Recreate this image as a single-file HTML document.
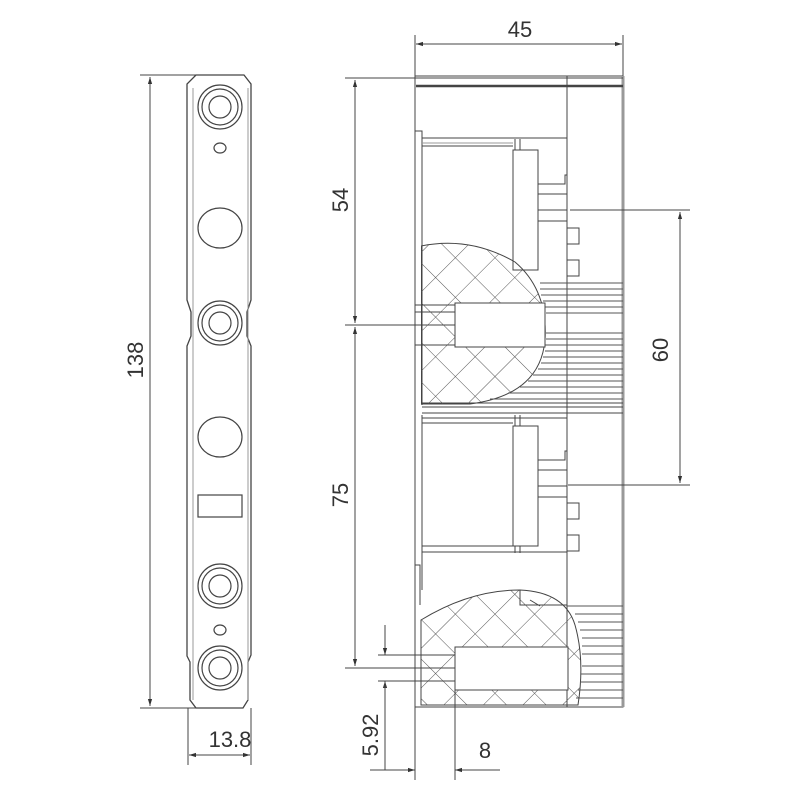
<!DOCTYPE html>
<html><head><meta charset="utf-8"><style>
html,body{margin:0;padding:0;background:#fff;width:800px;height:800px;overflow:hidden}
svg{display:block}
text{font-family:"Liberation Sans",sans-serif;font-size:22px;fill:#333}
</style></head><body>
<svg width="800" height="800" viewBox="0 0 800 800" xmlns="http://www.w3.org/2000/svg">
<defs>
<pattern id="hx" width="28" height="28" patternUnits="userSpaceOnUse" patternTransform="rotate(45)">
<path d="M0 0H28M0 0V28" stroke="#555" stroke-width="1" fill="none"/>
</pattern>
<marker id="a" viewBox="0 0 10 10" refX="10" refY="5" markerWidth="7" markerHeight="7" orient="auto-start-reverse"><path d="M0 2L10 5L0 8z" fill="#333"/></marker>
<clipPath id="c1"><rect x="421" y="70" width="205" height="640"/></clipPath>
</defs>
<g fill="none" stroke="#444" stroke-width="1">
<path d="M196 75H244L251 84V300L247 312V336L251 346V655L248 662V700L243 708H196L190 700V662L187 656V346L191 336V312L187 300V84Z" stroke-width="1.3"/>
<path d="M193 88V700M248 88V700" stroke="#999"/>
<g stroke-width="1.2">
<circle cx="220" cy="107" r="22"/><circle cx="220" cy="107" r="18"/><circle cx="220" cy="107" r="11"/>
<ellipse cx="220" cy="148" rx="6" ry="5"/>
<ellipse cx="220" cy="228" rx="22" ry="20"/>
<circle cx="220" cy="323" r="22"/><circle cx="220" cy="323" r="18"/><circle cx="220" cy="323" r="11"/>
<ellipse cx="220" cy="437" rx="22" ry="20"/>
<rect x="198" y="495" width="44" height="22"/>
<circle cx="220" cy="586" r="22"/><circle cx="220" cy="586" r="18"/><circle cx="220" cy="586" r="11"/>
<ellipse cx="220" cy="630" rx="6" ry="5"/>
<circle cx="220" cy="668" r="22"/><circle cx="220" cy="668" r="18"/><circle cx="220" cy="668" r="11"/>
</g>
<path d="M140 75H200M140 708H200"/>
<path d="M150 77V706" marker-start="url(#a)" marker-end="url(#a)"/>
<path d="M188 708V765M251 708V765"/>
<path d="M189 755H250" marker-start="url(#a)" marker-end="url(#a)"/>

<rect x="415" y="76" width="208" height="631"/>
<path d="M623 76V707" stroke="#999" stroke-width="3"/>
<path d="M416 86H623" stroke-width="2.5"/>
<path d="M416 78H623"/>
<path d="M567 76V707"/>
<path d="M415 131H422V405M422 415V590"/>
<path d="M422 138H567M422 146H513" />
<path d="M422 143H513" stroke="#999"/>
<rect x="513" y="150" width="25" height="120"/>
<path d="M515 139V150M520 139V150M538 184H565V175H567M538 194H567M538 210H567M538 221H567M567 228H579V244H567M567 260H579V276H567"/>
<path d="M422 418H567M422 423H513" />
<rect x="513" y="426" width="25" height="120"/>
<path d="M515 415V426M520 415V426M515 546V553M520 546V553M538 460H565V451H567M538 470H567M538 486H567M538 497H567M567 503H579V519H567M567 535H579V551H567"/>
<path d="M422 546H513M422 552H567"/>
<path d="M415 565H420V605"/>
<path d="M422 403H623M422 407H623M422 413H623" />
<g clip-path="url(#c1)">
<path d="M421 246Q470 236 515 262Q548 290 545 340Q540 395 470 404H421Z" fill="url(#hx)" stroke="#444"/>
</g>
<g stroke="#555">
<path d="M540 283H623M540 289H623M541 295H623M543 301H623M545 307H623M546 313H623M546 333H623M546 339H623M545 345H623M545 351H623M543 357H623M541 363H623M538 369H623M533 375H623M528 381H623M520 387H623M508 393H623M490 399H623"/>
</g>
<rect x="455" y="303" width="90" height="44" fill="#fff"/>
<path d="M415 305H455M415 345H455M410 325H455M415 312H455" />
<path d="M421 620Q470 590 520 590Q565 592 575 625Q585 660 578 705H421Z" fill="url(#hx)"/>
<path d="M520 590V605H567M530 600L540 606" />
<g stroke="#555">
<path d="M567 606H623M575 614H623M578 622H623M580 630H623M582 638H623M582 646H623M582 654H623M582 666H623M581 674H623M580 682H623M578 690H623M576 698H623"/>
</g>
<rect x="455" y="647" width="113" height="43" fill="#fff"/>
<path d="M415 655H455M415 681H455M400 668H455M415 648V690"/>

<path d="M415 35V76M623 35V76"/>
<path d="M416 44H622" marker-start="url(#a)" marker-end="url(#a)"/>
<path d="M345 78H420M345 325H415M345 668H420"/>
<path d="M355 80V323" marker-start="url(#a)" marker-end="url(#a)"/>
<path d="M355 327V666" marker-start="url(#a)" marker-end="url(#a)"/>
<path d="M570 210H690M568 485H690"/>
<path d="M680 212V483" marker-start="url(#a)" marker-end="url(#a)"/>
<path d="M378 655H418M378 681H418"/>
<path d="M385 625V655" marker-end="url(#a)"/>
<path d="M385 712V681" marker-end="url(#a)"/>
<path d="M385 681V770"/>
<path d="M415 705V780M455 690V780"/>
<path d="M370 770H415" marker-end="url(#a)"/>
<path d="M500 770H455" marker-end="url(#a)"/>
</g>
<text x="520" y="37" text-anchor="middle">45</text>
<text x="230" y="747" text-anchor="middle">13.8</text>
<text x="485" y="758" text-anchor="middle">8</text>
<text transform="translate(143,360) rotate(-90)" text-anchor="middle">138</text>
<text transform="translate(348,200) rotate(-90)" text-anchor="middle">54</text>
<text transform="translate(348,495) rotate(-90)" text-anchor="middle">75</text>
<text transform="translate(668,350) rotate(-90)" text-anchor="middle">60</text>
<text transform="translate(378,735) rotate(-90)" text-anchor="middle">5.92</text>
</svg>
</body></html>
